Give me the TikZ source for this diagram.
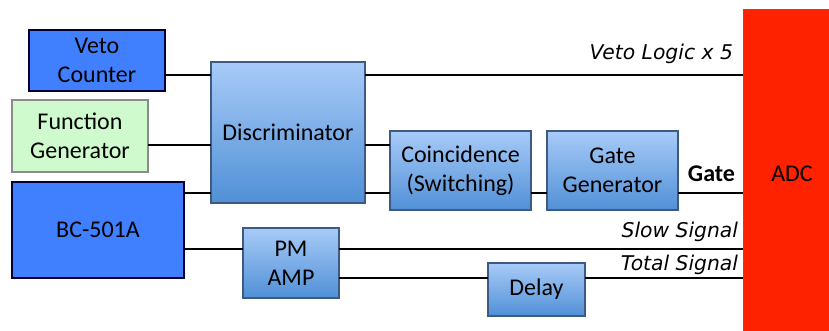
\documentclass[tikz,border=0pt]{standalone}
\usepackage{fontspec}
\setmainfont{Carlito}
\newfontfamily\labelfont{DejaVu Sans}
\begin{document}
\begin{tikzpicture}[x=1pt,y=-1pt,
  every node/.style={inner sep=0pt, outer sep=0pt, align=center,
    font=\fontsize{24}{29}\selectfont},
  solidblue/.style={draw=black!80!blue, line width=1.2pt, fill={rgb,255:red,64;green,128;blue,255}},
  greenbox/.style={draw=black!45, line width=1.2pt, fill={rgb,255:red,206;green,250;blue,206}},
  shadebox/.style={draw={rgb,255:red,60;green,90;blue,130}, line width=1.2pt,
    top color={rgb,255:red,168;green,203;blue,248}, bottom color={rgb,255:red,80;green,144;blue,214}},
  adcbox/.style={draw=black!60, line width=1pt, fill={rgb,255:red,255;green,34;blue,0}},
  wire/.style={line width=2pt, black},
  siglabel/.style={anchor=base east, font=\labelfont\itshape\fontsize{20.3}{24}\selectfont},
]
\useasboundingbox (0,0) rectangle (829,331);
\begin{scope}
\clip (0,0) rectangle (829,331);

% source boxes
\node[solidblue, minimum width=136pt, minimum height=61pt] (veto) at (97,60.5) {Veto\\Counter};
\node[greenbox, minimum width=136pt, minimum height=72pt] (func) at (80,136) {Function\\Generator};
\node[solidblue, minimum width=172pt, minimum height=96pt] (bc) at (98,230) {BC-501A};

% processing modules
\node[shadebox, minimum width=154pt, minimum height=141pt] (disc) at (288,132.5) {Discriminator};
\node[shadebox, minimum width=141pt, minimum height=79pt] (coin) at (460.5,170.5) {Coincidence\\(Switching)};
\node[shadebox, minimum width=131pt, minimum height=79pt] (gate) at (612.5,170.5) {Gate\\Generator};
\node[shadebox, minimum width=96pt, minimum height=70pt] (pm) at (291,263) {PM\\AMP};
\node[shadebox, minimum width=97pt, minimum height=53pt] (delay) at (536.5,289.5) {Delay};

% ADC
\node[adcbox, minimum width=97pt, minimum height=329pt] (adc) at (791.5,174) {};
\node (adctext) at (792,174) {ADC};

% connections
\draw[wire] (veto.east |- 0,75) -- (disc.west |- 0,75);
\draw[wire] (func.east |- 0,145) -- (disc.west |- 0,145);
\draw[wire] (bc.east |- 0,193) -- (disc.west |- 0,193);
\draw[wire] (disc.east |- 0,75) -- (adc.west |- 0,75);
\draw[wire] (disc.east |- 0,145) -- (coin.west |- 0,145);
\draw[wire] (disc.east |- 0,193) -- (coin.west |- 0,193);
\draw[wire] (coin.east |- 0,193) -- (gate.west |- 0,193);
\draw[wire] (gate.east |- 0,193) -- (adc.west |- 0,193);
\draw[wire] (bc.east |- 0,249) -- (pm.west |- 0,249);
\draw[wire] (pm.east |- 0,249) -- (adc.west |- 0,249);
\draw[wire] (pm.east |- 0,278) -- (delay.west |- 0,278);
\draw[wire] (delay.east |- 0,278) -- (adc.west |- 0,278);

% signal labels
\node[siglabel] (lveto) at (733,60) {Veto Logic x 5};
\node[anchor=base east, font=\bfseries\fontsize{24}{29}\selectfont] (lgate) at (735,182) {Gate};
\node[siglabel] (lslow) at (738,237) {Slow Signal};
\node[siglabel] (ltotal) at (738,270) {Total Signal};
\end{scope}
\end{tikzpicture}
\end{document}
